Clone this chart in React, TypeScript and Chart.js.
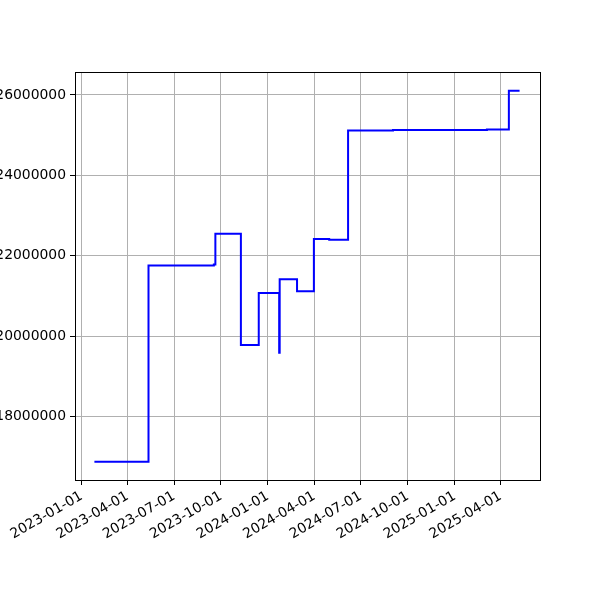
import React, { useEffect, useRef } from "react";
import { Chart, registerables } from "chart.js";

Chart.register(...registerables);

// Level changes (date where the new level starts) and the level values
const dates = [
  "2023-01-26",
  "2023-05-12",
  "2023-09-17",
  "2023-09-20",
  "2023-11-09",
  "2023-12-14",
  "2024-01-23",
  "2024-01-24",
  "2024-02-27",
  "2024-03-31",
  "2024-04-30",
  "2024-06-06",
  "2024-09-02",
  "2025-03-05",
  "2025-04-17",
  "2025-05-08",
];
const values = [
  16878000,
  21758000,
  21785000,
  22550000,
  19780000,
  21078000,
  19590000,
  21418000,
  21118000,
  22418000,
  22400000,
  25120000,
  25130000,
  25140000,
  26107000,
  26107000,
];

const xTickDates = [
  "2023-01-01",
  "2023-04-01",
  "2023-07-01",
  "2023-10-01",
  "2024-01-01",
  "2024-04-01",
  "2024-07-01",
  "2024-10-01",
  "2025-01-01",
  "2025-04-01",
];
const yTickValues = [18000000, 20000000, 22000000, 24000000, 26000000];

const xMinDate = "2022-12-19";
const xMaxDate = "2025-06-17";
const yMin = 16425000;
const yMax = 26572000;

const toMs = (d: string) => Date.parse(d + "T00:00:00Z");
const fmtDate = (ms: number) => new Date(ms).toISOString().slice(0, 10);

const FONT = { family: "'DejaVu Sans', sans-serif", size: 13.9 };

const boxPlugin = {
  id: "box",
  afterDraw(chart: any) {
    const { ctx, chartArea } = chart;
    ctx.save();
    ctx.strokeStyle = "#000";
    ctx.lineWidth = 1;
    ctx.strokeRect(
      Math.round(chartArea.left) + 0.5,
      Math.round(chartArea.top) + 0.5,
      Math.round(chartArea.right - chartArea.left),
      Math.round(chartArea.bottom - chartArea.top)
    );
    ctx.restore();
  },
};

export default function App() {
  const ref = useRef<HTMLCanvasElement | null>(null);

  useEffect(() => {
    document.body.style.margin = "0";
    const canvas = ref.current;
    if (!canvas) return;
    // Each level holds from its own date until the next date.
    const points: { x: number; y: number }[] = [];
    dates.forEach((d, i) => {
      points.push({ x: toMs(d), y: values[i] });
    });
    const chart = new Chart(canvas, {
      type: "line",
      data: {
        datasets: [
          {
            data: points,
            borderColor: "#0000ff",
            borderWidth: 2,
            pointRadius: 0,
            stepped: "before",
            fill: false,
          },
        ],
      },
      options: {
        animation: false,
        responsive: false,
        devicePixelRatio: 1,
        layout: { padding: { left: 0, top: 72, right: 60, bottom: 0 } },
        plugins: {
          legend: { display: false },
          tooltip: { enabled: false },
        },
        scales: {
          x: {
            type: "linear",
            min: toMs(xMinDate),
            max: toMs(xMaxDate),
            afterBuildTicks: (scale: any) => {
              scale.ticks = xTickDates.map((d) => ({ value: toMs(d) }));
            },
            afterFit: (scale: any) => {
              scale.height = 120;
            },
            ticks: {
              callback: (v: any) => fmtDate(Number(v)),
              maxRotation: 30,
              minRotation: 30,
              autoSkip: false,
              color: "#000",
              font: FONT,
              padding: 3,
            },
            grid: {
              color: "#b0b0b0",
              lineWidth: 1,
              tickColor: "#000",
              tickLength: 5,
              tickWidth: 1,
            },
            border: { color: "#000", width: 1 },
          },
          y: {
            type: "linear",
            min: yMin,
            max: yMax,
            afterBuildTicks: (scale: any) => {
              scale.ticks = yTickValues.map((v) => ({ value: v }));
            },
            afterFit: (scale: any) => {
              scale.width = 75;
            },
            ticks: {
              callback: (v: any) => String(Math.round(Number(v))),
              color: "#000",
              font: FONT,
              padding: 4,
            },
            grid: {
              color: "#b0b0b0",
              lineWidth: 1,
              tickColor: "#000",
              tickLength: 5,
              tickWidth: 1,
            },
            border: { color: "#000", width: 1 },
          },
        },
      },
      plugins: [boxPlugin],
    } as any);
    return () => chart.destroy();
  }, []);

  return (
    <div style={{ position: "absolute", left: 0, top: 0, width: 600, height: 600, background: "#fff" }}>
      <canvas ref={ref} width={600} height={600} style={{ width: 600, height: 600 }} />
    </div>
  );
}
